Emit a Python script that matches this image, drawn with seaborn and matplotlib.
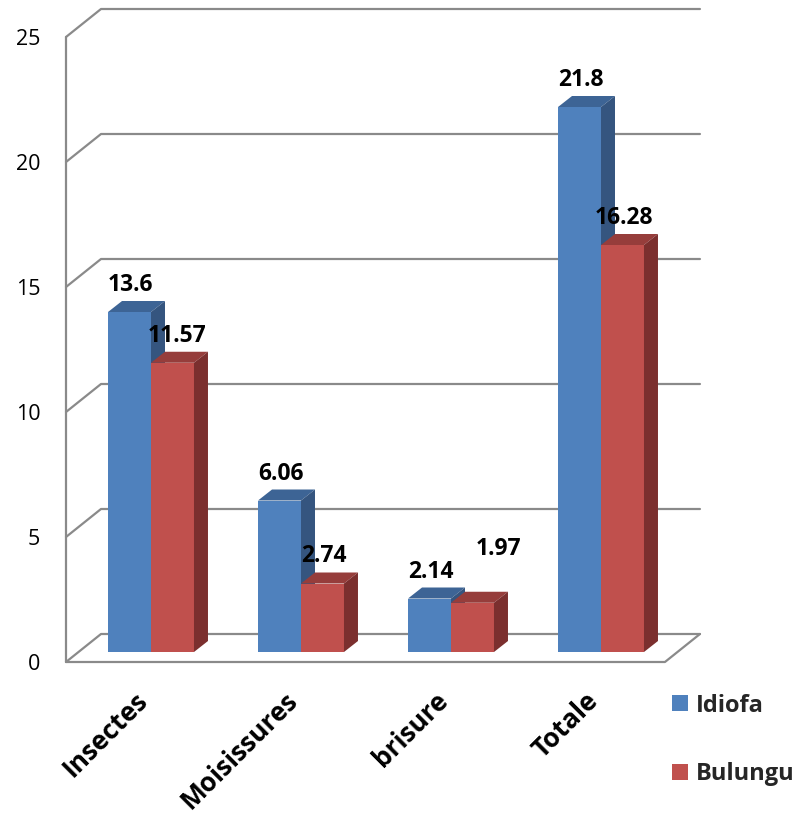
import numpy as np
import pandas as pd
import matplotlib
matplotlib.use('Agg')
import matplotlib.pyplot as plt
import matplotlib.transforms as mtransforms
from matplotlib.patches import Polygon
import seaborn as sns

# data
CATEGORIES = ['Insectes', 'Moisissures', 'brisure', 'Totale']
SITES = ['Idiofa', 'Bulungu']
IDIOFA = [13.6, 6.06, 2.14, 21.8]
BULUNGU = [11.57, 2.74, 1.97, 16.28]
Y_TICKS = [0, 5, 10, 15, 20, 25]

# style
FRONT = {'Idiofa': '#4f81bd', 'Bulungu': '#c0504d'}
TOP = {'Idiofa': '#3d6495', 'Bulungu': '#963d3b'}
SIDE = {'Idiofa': '#35557f', 'Bulungu': '#7b2f2e'}
GRID = '#8a8a8a'

# pseudo-3d geometry, in data units (1 category = 150 px, 1 unit = 25 px)
PX_X, PX_Y = 1 / 150, 1 / 25
BAR_D = (14 * PX_X, 11 * PX_Y)        # depth of a bar
FRONT_D = (-13 * PX_X, -10 * PX_Y)    # bar plane -> front of floor
BACK_D = (22 * PX_X, 18 * PX_Y)       # bar plane -> back wall
WALL_L, WALL_R = -0.48, 3.513

# label nudges in pixels (Excel put 1.97 off the bar)
NUDGE = {('Bulungu', 0): (4, 0), ('Bulungu', 2): (25, 27)}


def main():
    sns.set_theme(style='white')
    plt.rcParams['font.family'] = ['Open Sans', 'DejaVu Sans']

    df = pd.DataFrame({
        'cat': CATEGORIES * 2,
        'site': [SITES[0]] * 4 + [SITES[1]] * 4,
        'val': IDIOFA + BULUNGU,
    })

    fig = plt.figure(figsize=(7.98, 8.14), dpi=100)
    x0 = WALL_L + FRONT_D[0]
    x1 = WALL_R + BACK_D[0]
    y0 = FRONT_D[1]
    y1 = 25 + BACK_D[1]
    left_px = 151 + 150 * x0
    w_px = 150 * (x1 - x0)
    bot_px = 652 - 25 * y0
    h_px = 25 * (y1 - y0)
    ax = fig.add_axes([left_px / 798, (814 - bot_px) / 814, w_px / 798, h_px / 814])

    sns.barplot(data=df, x='cat', y='val', hue='site', order=CATEGORIES,
                hue_order=SITES, palette=[FRONT[s] for s in SITES],
                saturation=1, width=0.573, gap=0, linewidth=0, ax=ax)

    ax.set_xlim(x0, x1)
    ax.set_ylim(y0, y1)
    for s in ax.spines.values():
        s.set_visible(False)
    ax.set_xlabel('')
    ax.set_ylabel('')

    # walls and grid
    lk = dict(color=GRID, lw=1.6, clip_on=False, zorder=0.5, solid_capstyle='round')
    fl = (WALL_L + FRONT_D[0], FRONT_D[1])
    bl = (WALL_L + BACK_D[0], BACK_D[1])
    br = (WALL_R + BACK_D[0], BACK_D[1])
    fr = (WALL_R + FRONT_D[0], FRONT_D[1])
    for v in Y_TICKS:
        ax.plot([fl[0], bl[0], br[0]], [fl[1] + v, bl[1] + v, br[1] + v], **lk)
    ax.plot([fl[0], fl[0]], [fl[1], fl[1] + 25], **lk)
    ax.plot([fl[0], fr[0], br[0]], [fl[1], fr[1], br[1]], **lk)

    # 3d faces + labels
    bars = ax.patches[:len(df)]
    for i, p in enumerate(bars):
        site = SITES[i // len(CATEGORIES)]
        k = i % len(CATEGORIES)
        z = 2 if site == 'Idiofa' else 3
        p.set_zorder(z)
        x, w, h = p.get_x(), p.get_width(), p.get_height()
        dx, dy = BAR_D
        ax.add_patch(Polygon([(x, h), (x + w, h), (x + w + dx, h + dy), (x + dx, h + dy)],
                             closed=True, fc=TOP[site], ec='none', zorder=z))
        ax.add_patch(Polygon([(x + w, 0), (x + w, h), (x + w + dx, h + dy), (x + w + dx, dy)],
                             closed=True, fc=SIDE[site], ec='none', zorder=z))
        nx, ny = NUDGE.get((site, k), (0, 0))
        val = df['val'].iloc[i]
        ax.annotate(f'{val:g}', xy=(x + w / 2, h), xytext=(nx + 1, 27 + ny),
                    textcoords='offset pixels', ha='center', va='center',
                    fontsize=16.5, fontweight='bold', color='black', zorder=5)

    # ticks
    ax.set_yticks(np.array(Y_TICKS) + FRONT_D[1], labels=[str(v) for v in Y_TICKS])
    ax.tick_params(axis='y', length=0, pad=18.5, labelsize=15.5, labelcolor='black')
    ax.set_xticks(range(len(CATEGORIES)), labels=CATEGORIES)
    ax.tick_params(axis='x', length=0, pad=25, labelsize=19, labelcolor='black')
    shift = mtransforms.ScaledTranslation(-7 / 100, 0, fig.dpi_scale_trans)
    for t in ax.get_xticklabels():
        t.set_rotation(45)
        t.set_ha('right')
        t.set_va('center')
        t.set_rotation_mode('anchor')
        t.set_fontweight('bold')
        t.set_transform(t.get_transform() + shift)

    handles, labels = ax.get_legend_handles_labels()
    ax.legend(handles, labels, loc='center left',
              bbox_to_anchor=(672 / 798, 1 - 740 / 814), bbox_transform=fig.transFigure,
              frameon=False, borderpad=0, borderaxespad=0, handlelength=0.68,
              handleheight=0.68, handletextpad=0.35, labelspacing=1.9,
              prop={'size': 17, 'weight': 'bold'})

    fig.savefig('out.png', dpi=100)


if __name__ == '__main__':
    main()
